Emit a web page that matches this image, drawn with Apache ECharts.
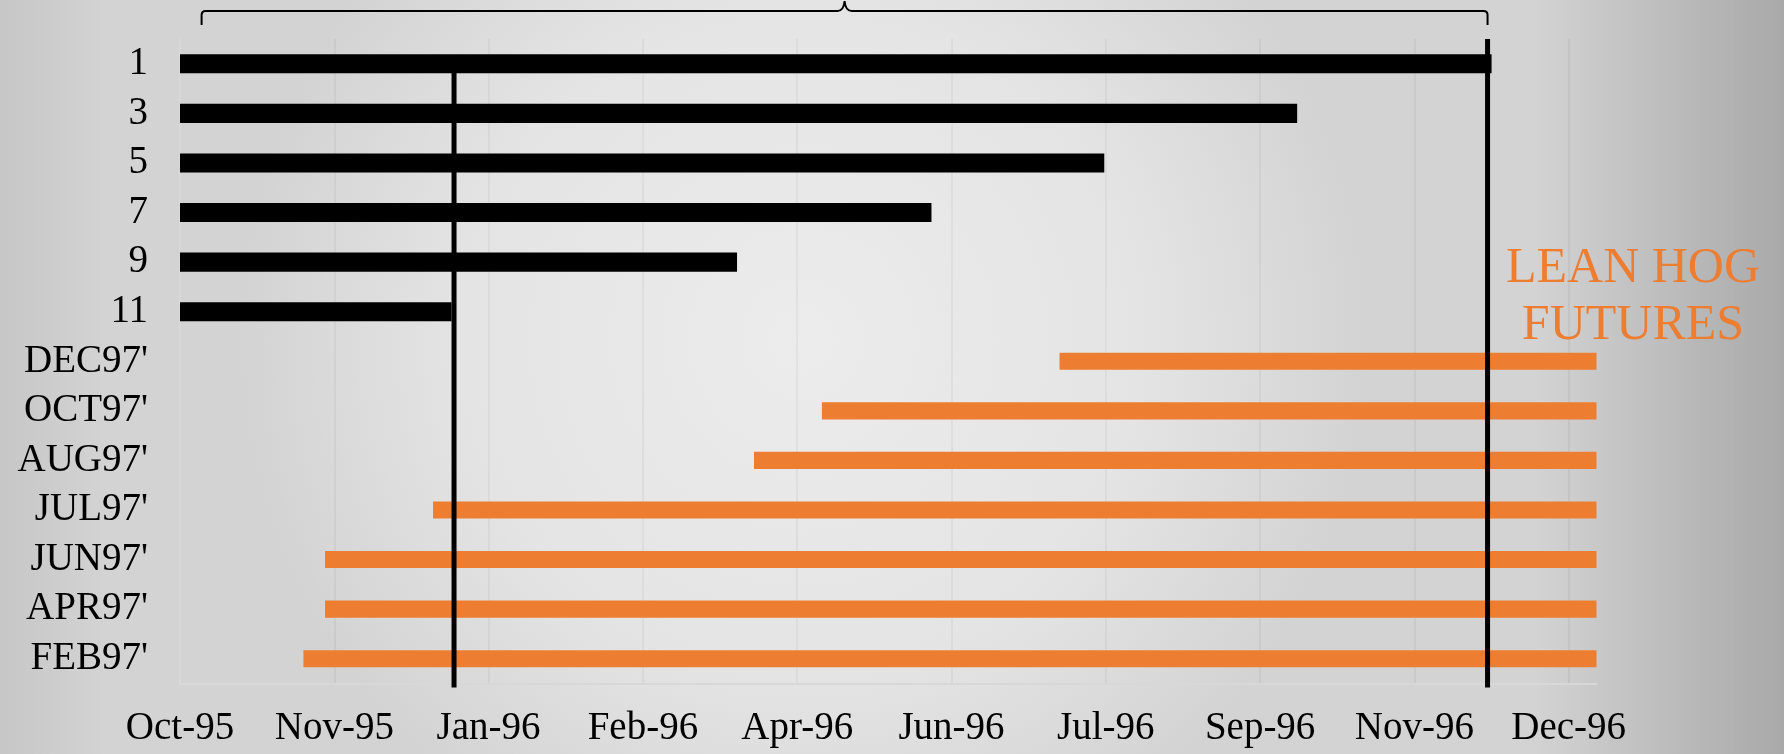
<!doctype html>
<html>
<head>
<meta charset="utf-8">
<title>Lean Hog Futures</title>
<script src="https://cdn.jsdelivr.net/npm/echarts@6/dist/echarts.min.js"></script>
<style>
    html,body{
        margin: 0;
        width: 100%;
        height: 100%;
        overflow: hidden;
    }
    #main{
        width: 1784px;
        height: 754px;
    }
</style>
</head>
<body>
<div id="main"></div>
<script>
    // rows, top to bottom
    var categories = ['1', '3', '5', '7', '9', '11', "DEC97'", "OCT97'", "AUG97'", "JUL97'", "JUN97'", "APR97'", "FEB97'"];
    // x axis is in days from the Oct-95 tick, one tick every 50 days
    var tickLabels = ['Oct-95', 'Nov-95', 'Jan-96', 'Feb-96', 'Apr-96', 'Jun-96', 'Jul-96', 'Sep-96', 'Nov-96', 'Dec-96'];

    var blackCats  = ['1', '3', '5', '7', '9', '11'];
    var blackStart = [0, 0, 0, 0, 0, 0];
    var blackEnd   = [425, 362, 299.5, 243.5, 180.5, 88];

    var orangeCats  = ["DEC97'", "OCT97'", "AUG97'", "JUL97'", "JUN97'", "APR97'", "FEB97'"];
    var orangeStart = [285, 208, 186, 82, 47, 47, 40];
    var orangeEnd   = [459, 459, 459, 459, 459, 459, 459];

    // the two black vertical markers, and where each one starts
    var markDays   = [88.8, 423.7];
    var markTopCat = ['1', null];
    // brace over the top
    var braceDays  = [7, 423.7];

    var chart = echarts.init(document.getElementById('main'));

    function barRender(color, ratio) {
        return function (params, api) {
            var p0 = api.coord([api.value(0), api.value(1)]);
            var p1 = api.coord([api.value(2), api.value(1)]);
            var h = api.size([0, 1])[1] * ratio;
            return {
                type: 'rect',
                shape: { x: p0[0], y: p0[1] - h / 2, width: p1[0] - p0[0], height: h },
                style: { fill: color }
            };
        };
    }

    function markRender(params, api) {
        var x = api.coord([api.value(0), 0])[0];
        var cs = params.coordSys;
        var cat = markTopCat[params.dataIndex];
        var top = cat === null ? cs.y : api.coord([0, categories.indexOf(cat)])[1];
        return {
            type: 'line',
            shape: { x1: x, y1: top, x2: x, y2: cs.y + cs.height + 4 },
            style: { stroke: '#000', lineWidth: 5 }
        };
    }

    function braceRender(params, api) {
        var x0 = api.coord([api.value(0), 0])[0];
        var x1 = api.coord([api.value(1), 0])[0];
        var xm = (x0 + x1) / 2;
        var top = params.coordSys.y;
        var yh = top - 28, ye = top - 14, yt = top - 38;
        var d = 'M' + x0 + ' ' + ye + ' L' + x0 + ' ' + (yh + 4) +
            ' Q' + x0 + ' ' + yh + ' ' + (x0 + 4) + ' ' + yh +
            ' L' + (xm - 7) + ' ' + yh +
            ' Q' + (xm - 1) + ' ' + yh + ' ' + xm + ' ' + yt +
            ' Q' + (xm + 1) + ' ' + yh + ' ' + (xm + 7) + ' ' + yh +
            ' L' + (x1 - 4) + ' ' + yh +
            ' Q' + x1 + ' ' + yh + ' ' + x1 + ' ' + (yh + 4) +
            ' L' + x1 + ' ' + ye;
        return {
            type: 'path',
            shape: { pathData: d },
            style: { stroke: '#000', lineWidth: 2, fill: null }
        };
    }

    var serif = '"Liberation Serif", "Times New Roman", serif';

    var option = {
        animation: false,
        backgroundColor: {
            type: 'radial', x: 0.45, y: 0.45, r: 0.75,
            colorStops: [
                { offset: 0, color: '#ececec' },
                { offset: 0.6, color: '#e4e4e4' },
                { offset: 1, color: '#d3d3d3' }
            ]
        },
        graphic: [{
            type: 'rect', z: -10, silent: true,
            shape: { x: 0, y: 0, width: 1784, height: 754 },
            style: {
                fill: {
                    type: 'linear', x: 0, y: 0, x2: 1, y2: 0,
                    colorStops: [
                        { offset: 0, color: 'rgba(0,0,0,0.06)' },
                        { offset: 0.06, color: 'rgba(0,0,0,0)' },
                        { offset: 0.86, color: 'rgba(0,0,0,0)' },
                        { offset: 1, color: 'rgba(0,0,0,0.2)' }
                    ]
                }
            }
        }, {
            type: 'text', z: 10,
            x: 1633, y: 240,
            style: {
                text: 'LEAN HOG\nFUTURES',
                textAlign: 'center',
                textVerticalAlign: 'top',
                font: '50px ' + serif,
                lineHeight: 57,
                fill: '#ED7D31'
            }
        }],
        grid: {
            left: 180,
            top: 39,
            right: 187.5,
            bottom: 70.5,
            containLabel: false
        },
        xAxis: {
            type: 'value',
            min: 0,
            max: 459,
            interval: 50,
            axisLine: { show: true, lineStyle: { color: '#d8d8d8', width: 2 } },
            axisTick: { show: false },
            splitLine: {
                show: true,
                showMaxLine: false,
                lineStyle: { color: 'rgba(0,0,0,0.055)', width: 1.5 }
            },
            axisLabel: {
                margin: 26,
                color: '#000',
                fontFamily: serif,
                fontSize: 39,
                showMaxLabel: false,
                formatter: function (v) {
                    var i = Math.round(v / 50);
                    return (v % 50 === 0 && tickLabels[i]) ? tickLabels[i] : '';
                }
            }
        },
        yAxis: {
            type: 'category',
            inverse: true,
            data: categories,
            axisLine: { show: true, lineStyle: { color: '#d8d8d8', width: 2 } },
            axisTick: { show: true, length: 10, lineStyle: { color: '#d2d2d2' } },
            splitLine: { show: false },
            axisLabel: {
                interval: 0,
                margin: 32,
                color: '#000',
                fontFamily: serif,
                fontSize: 39
            }
        },
        series: [{
            name: 'black',
            type: 'custom',
            renderItem: barRender('#000000', 0.385),
            encode: { x: [0, 2], y: 1 },
            data: blackCats.map(function (c, i) { return [blackStart[i], c, blackEnd[i]]; }),
            z: 3
        }, {
            name: 'orange',
            type: 'custom',
            renderItem: barRender('#ED7D31', 0.345),
            encode: { x: [0, 2], y: 1 },
            data: orangeCats.map(function (c, i) { return [orangeStart[i], c, orangeEnd[i]]; }),
            z: 3
        }, {
            name: 'marks',
            type: 'custom',
            clip: false,
            renderItem: markRender,
            encode: { x: 0, y: 1 },
            data: markDays.map(function (d) { return [d, 0]; }),
            z: 4
        }, {
            name: 'brace',
            type: 'custom',
            clip: false,
            renderItem: braceRender,
            encode: { x: [0, 1], y: 2 },
            data: [[braceDays[0], braceDays[1], 0]],
            z: 4
        }]
    };

    chart.setOption(option);
</script>
</body>
</html>
